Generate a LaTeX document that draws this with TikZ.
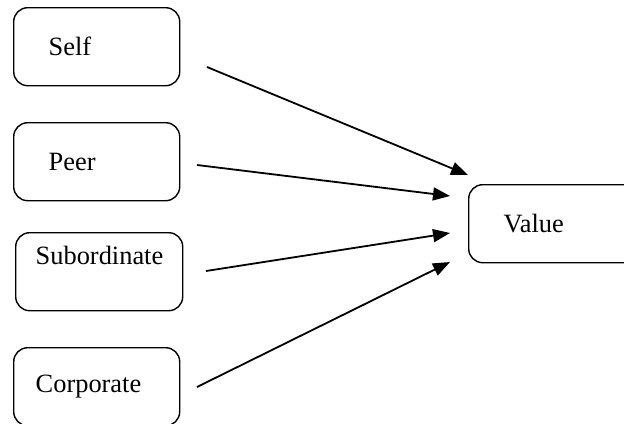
\documentclass[tikz,border=0pt]{standalone}
\usepackage{fontspec}
\setmainfont{Liberation Serif}
\usetikzlibrary{arrows.meta}

\begin{document}
\begin{tikzpicture}[x=0.5pt, y=-0.5pt,
        box/.style={draw, line width=0.7pt, rounded corners=7pt, anchor=north west,
                     minimum height=39pt, align=left, font=\fontsize{13.2}{16}\selectfont},
        arr/.style={-{Triangle[length=8.5pt, width=6.5pt]}, line width=0.9pt}
      ]
      \useasboundingbox (0,0) rectangle (624,423);
      \clip (0,0) rectangle (624,423);

      \node[box, inner xsep=17.5pt, text width=48pt] (self) at (13,7) {Self};
      \node[box, inner xsep=17.5pt, text width=48pt] (peer) at (13,122) {Peer};
      \node[box, inner xsep=10pt, text width=63.5pt, text depth=16pt] (sub) at (15,232) {Subordinate};
      \node[box, inner xsep=11pt, text width=61pt] (corp) at (13,347) {Corporate};
      \node[box, inner xsep=17.5pt, text width=70pt] (value) at (468,184) {Value};

      \coordinate (selfout) at (207,67);
      \coordinate (peerout) at (197,165);
      \coordinate (subout) at (206,271);
      \coordinate (corpout) at (197,387);
      \coordinate (valin1) at (468,175);
      \coordinate (valin2) at (450,196);
      \coordinate (valin3) at (450,233);
      \coordinate (valin4) at (450,262);

      \draw[arr] (selfout) -- (valin1);
      \draw[arr] (peerout) -- (valin2);
      \draw[arr] (subout) -- (valin3);
      \draw[arr] (corpout) -- (valin4);
    \end{tikzpicture}
\end{document}
